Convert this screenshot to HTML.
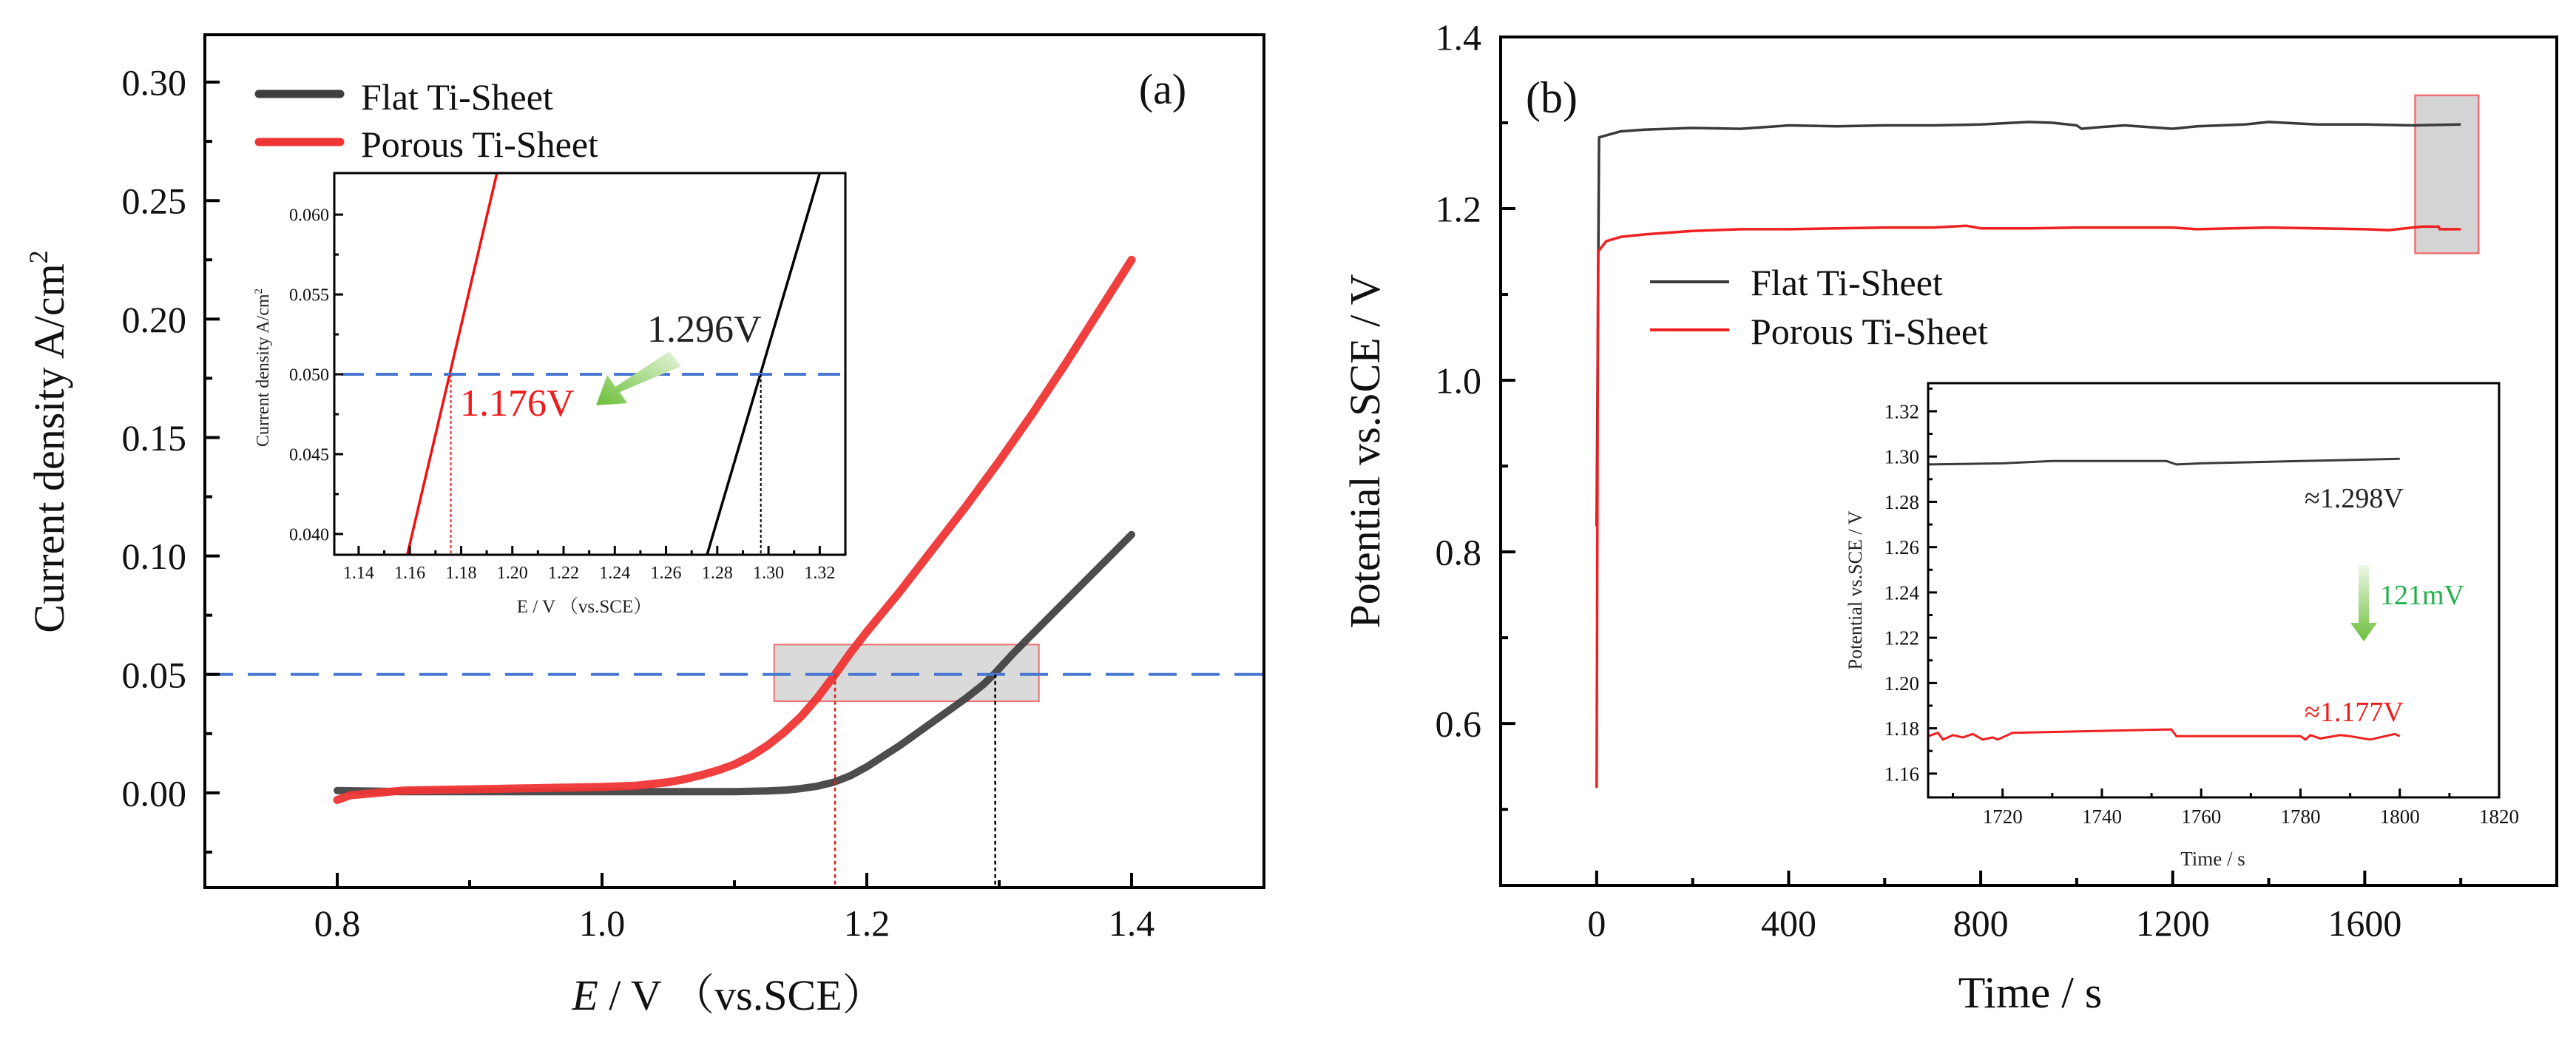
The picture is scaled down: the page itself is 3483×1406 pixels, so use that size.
<!DOCTYPE html>
<html><head><meta charset="utf-8"><title>LSV and chronopotentiometry</title>
<style>
html,body{margin:0;padding:0;background:#fff;}
svg{display:block;font-family:"Liberation Serif","Noto Serif CJK SC",serif;}
</style></head>
<body>
<svg id="fig" width="3483" height="1406" viewBox="0 0 3483 1406" xmlns="http://www.w3.org/2000/svg">
<rect width="3483" height="1406" fill="#fff"/>
<g id="pa"></g>
<g id="pb"></g>
</svg>
<script>
// ---------- Panel (a) data ----------
const aFlatE = [0.80,0.85,0.90,0.95,1.00,1.05,1.10,1.125,1.14,1.15,1.1625,1.175,1.1875,1.20,1.2125,1.225,1.2375,1.25,1.2625,1.275,1.2875,1.296,1.31,1.325,1.35,1.375,1.40];
const aFlatJ = [0.001,0.0005,0.0005,0.0005,0.0005,0.0005,0.0005,0.0008,0.0012,0.0018,0.0028,0.0045,0.0072,0.011,0.0155,0.020,0.025,0.030,0.035,0.040,0.0455,0.050,0.0585,0.067,0.081,0.095,0.109];
const aPorE = [0.80,0.81,0.85,0.90,0.95,1.00,1.025,1.05,1.0625,1.075,1.0875,1.10,1.1125,1.125,1.1375,1.15,1.1625,1.176,1.1875,1.20,1.225,1.25,1.275,1.30,1.325,1.35,1.375,1.40];
const aPorJ = [-0.003,-0.001,0.001,0.0015,0.002,0.0025,0.003,0.0045,0.0058,0.0075,0.0095,0.012,0.0155,0.020,0.0255,0.032,0.040,0.050,0.059,0.068,0.085,0.103,0.121,0.140,0.160,0.181,0.203,0.225];
const aXTicks = [0.8,1.0,1.2,1.4];
const aYTicks = [0.00,0.05,0.10,0.15,0.20,0.25,0.30];
const aRef = 0.05, aPorCross = 1.176, aFlatCross = 1.297;
// inset (a)
const iaPorE = [1.159,1.194];
const iaPorJ = [0.0387,0.0626];
const iaFlatE = [1.276,1.320];
const iaFlatJ = [0.0387,0.0626];
const iaXTicks = [1.14,1.16,1.18,1.20,1.22,1.24,1.26,1.28,1.30,1.32];
const iaYTicks = [0.040,0.045,0.050,0.055,0.060];
// ---------- Panel (b) data ----------
const bFlatT = [0,5,50,100,200,300,400,500,600,700,800,900,950,1000,1010,1050,1100,1200,1250,1350,1400,1500,1600,1700,1800];
const bFlatV = [0.83,1.283,1.290,1.292,1.294,1.293,1.297,1.296,1.297,1.297,1.298,1.301,1.300,1.297,1.293,1.295,1.297,1.293,1.296,1.298,1.301,1.298,1.298,1.297,1.298];
const bPorT = [0,3,20,50,100,200,300,400,500,600,700,770,800,900,1000,1200,1250,1400,1500,1600,1650,1700,1720,1754,1756,1800];
const bPorV = [0.525,1.150,1.162,1.167,1.170,1.174,1.176,1.176,1.177,1.178,1.178,1.180,1.177,1.177,1.178,1.178,1.176,1.178,1.177,1.176,1.175,1.178,1.179,1.179,1.176,1.176];
const bXTicks = [0,400,800,1200,1600];
const bYTicks = [0.6,0.8,1.0,1.2,1.4];
// inset (b)
const ibFlatT = [1705,1720,1730,1753,1755,1760,1780,1800];
const ibFlatV = [1.2965,1.297,1.298,1.298,1.2965,1.297,1.298,1.299];
const ibPorT = [1705,1707,1708,1710,1712,1714,1716,1718,1719,1720,1722,1754,1755,1780,1781,1782,1784,1788,1790,1794,1797,1799,1800];
const ibPorV = [1.1765,1.178,1.175,1.177,1.176,1.1775,1.175,1.176,1.175,1.176,1.178,1.1795,1.1765,1.1765,1.175,1.177,1.1755,1.177,1.1765,1.175,1.1765,1.1775,1.1765];
const ibXTicks = [1720,1740,1760,1780,1800,1820];
const ibYTicks = [1.16,1.18,1.20,1.22,1.24,1.26,1.28,1.30,1.32];

const NS="http://www.w3.org/2000/svg";
function mk(parent,tag,attrs,text){const e=document.createElementNS(NS,tag);for(const k in attrs)e.setAttribute(k,attrs[k]);if(text!==undefined)e.textContent=text;parent.appendChild(e);return e;}
function scale(d0,d1,p0,p1){return v=>p0+(v-d0)/(d1-d0)*(p1-p0);}
function pathFrom(xs,ys,sx,sy){return xs.map((x,i)=>(i?'L':'M')+sx(x).toFixed(1)+' '+sy(ys[i]).toFixed(1)).join(' ');}

function axes(g,o){
  const {L,R,T,B,sx,sy,xt,yt,xminor,yminor,lw,maj,min,fs,xfmt,yfmt,xlabY,ylabX}=o;
  const fr=mk(g,'rect',{x:L,y:T,width:R-L,height:B-T,fill:'none',stroke:'#000','stroke-width':lw});
  
  
  xminor.forEach(v=>{const t=mk(g,'line',{x1:sx(v),x2:sx(v),y1:B,y2:B-min,stroke:'#000','stroke-width':lw});
    
    });
  yminor.forEach(v=>{const t=mk(g,'line',{x1:L,x2:L+min,y1:sy(v),y2:sy(v),stroke:'#000','stroke-width':lw});
    
    });
  xt.forEach(v=>{const t=mk(g,'line',{x1:sx(v),x2:sx(v),y1:B,y2:B-maj,stroke:'#000','stroke-width':lw});
    
    
    const l=mk(g,'text',{x:sx(v),y:xlabY,'font-size':fs,'text-anchor':'middle',fill:'#111'},xfmt(v));
    
    });
  yt.forEach(v=>{const t=mk(g,'line',{x1:L,x2:L+maj,y1:sy(v),y2:sy(v),stroke:'#000','stroke-width':lw});
    
    
    const l=mk(g,'text',{x:ylabX,y:sy(v)+fs*0.35,'font-size':fs,'text-anchor':'end',fill:'#111'},yfmt(v));
    
    });
}
function range(a,b,s){const r=[];for(let v=a;v<=b+1e-9;v+=s)r.push(+v.toFixed(6));return r;}

// ================= Panel A =================
const ga=document.getElementById('pa');
{
 const L=277,R=1709,T=47,B=1200;
 const sx=scale(0.7,1.5,L,R), sy=scale(-0.04,0.32,B,T);
 const box=mk(ga,'rect',{x:sx(1.13),y:sy(0.0626),width:sx(1.33)-sx(1.13),height:sy(0.0387)-sy(0.0626),fill:'#d4d4d4','fill-opacity':0.85,stroke:'#f07070','stroke-width':2});
 
 
 const fl=mk(ga,'path',{d:pathFrom(aFlatE,aFlatJ,sx,sy),fill:'none',stroke:'#3e3e3e','stroke-width':10,'stroke-linejoin':'round','stroke-linecap':'round','stroke-opacity':0.92});
 
 
 const pr=mk(ga,'path',{d:pathFrom(aPorE,aPorJ,sx,sy),fill:'none',stroke:'#ef3535','stroke-width':11,'stroke-linejoin':'round','stroke-linecap':'round','stroke-opacity':0.95});
 
 
 const ref=mk(ga,'line',{x1:L,x2:R,y1:sy(aRef),y2:sy(aRef),stroke:'#4a78d0','stroke-width':4,'stroke-dasharray':'38 20'});
 
 
 const v1=mk(ga,'line',{x1:sx(aPorCross),x2:sx(aPorCross),y1:sy(aRef),y2:B,stroke:'#e02020','stroke-width':2.5,'stroke-dasharray':'5 4'});
 
 
 const v2=mk(ga,'line',{x1:sx(aFlatCross),x2:sx(aFlatCross),y1:sy(aRef),y2:B,stroke:'#000','stroke-width':2.5,'stroke-dasharray':'5 4'});
 
 
 axes(ga,{name:'a',L,R,T,B,sx,sy,xt:aXTicks,yt:aYTicks,xminor:range(0.9,1.3,0.2),yminor:range(-0.025,0.275,0.05),lw:4,maj:20,min:10,fs:50,
   xfmt:v=>v.toFixed(1),yfmt:v=>v.toFixed(2),xlabY:1265,ylabX:252});
 const yt=mk(ga,'text',{x:0,y:0,'font-size':58,'text-anchor':'middle',transform:'translate(86,597) rotate(-90)',fill:'#111'});
 
 
 yt.innerHTML='Current density A/cm<tspan dy="-22" font-size="36">2</tspan>';
 const xt=mk(ga,'text',{x:985,y:1365,'font-size':58,'text-anchor':'middle',fill:'#111'});
 
 
 xt.innerHTML='<tspan font-style="italic">E</tspan> / V （vs.SCE）';
 const lab=mk(ga,'text',{x:1572,y:140,'font-size':58,'text-anchor':'middle',fill:'#111'},'(a)');
 
 
 const l1=mk(ga,'line',{x1:350,x2:460,y1:127,y2:127,stroke:'#3e3e3e','stroke-width':11,'stroke-linecap':'round'});
 
 
 const t1=mk(ga,'text',{x:488,y:148,'font-size':50,fill:'#111'},'Flat Ti-Sheet');
 
 
 const l2=mk(ga,'line',{x1:350,x2:460,y1:192,y2:192,stroke:'#ef3535','stroke-width':11,'stroke-linecap':'round'});
 
 
 const t2=mk(ga,'text',{x:488,y:212,'font-size':50,fill:'#111'},'Porous Ti-Sheet');
 
 

 const gi=mk(ga,'g',{});
 
 
 const iL=452,iR=1143,iT=234,iB=750;
 const isx=scale(1.1305,1.330,iL,iR), isy=scale(0.0387,0.0626,iB,iT);
 mk(gi,'rect',{x:iL,y:iT,width:iR-iL,height:iB-iT,fill:'#fff'});
 const ir=mk(gi,'path',{d:pathFrom(iaPorE,iaPorJ,isx,isy),fill:'none',stroke:'#f01010','stroke-width':3.5});
 
 
 const ib=mk(gi,'path',{d:pathFrom(iaFlatE,iaFlatJ,isx,isy),fill:'none',stroke:'#000','stroke-width':3.5});
 
 
 const iref=mk(gi,'line',{x1:iL+10,x2:iR,y1:isy(aRef),y2:isy(aRef),stroke:'#4a78d0','stroke-width':4,'stroke-dasharray':'30 16'});
 
 
 const iv1=mk(gi,'line',{x1:isx(aPorCross),x2:isx(aPorCross),y1:isy(aRef),y2:iB,stroke:'#e02020','stroke-width':2,'stroke-dasharray':'4 3'});
 
 
 const iv2=mk(gi,'line',{x1:isx(aFlatCross),x2:isx(aFlatCross),y1:isy(aRef),y2:iB,stroke:'#000','stroke-width':2,'stroke-dasharray':'4 3'});
 
 
 axes(gi,{name:'inset-a',L:iL,R:iR,T:iT,B:iB,sx:isx,sy:isy,xt:iaXTicks,yt:iaYTicks,xminor:range(1.15,1.31,0.02),yminor:range(0.0425,0.0575,0.005),lw:3,maj:12,min:6,fs:24,
   xfmt:v=>v.toFixed(2),yfmt:v=>v.toFixed(3),xlabY:782,ylabX:445});
 const iyt=mk(gi,'text',{x:0,y:0,'font-size':24,'text-anchor':'middle',transform:'translate(363,497) rotate(-90)',fill:'#222'});
 
 
 iyt.innerHTML='Current density A/cm<tspan dy="-9" font-size="15">2</tspan>';
 const ixt=mk(gi,'text',{x:790,y:828,'font-size':25,'text-anchor':'middle',fill:'#222'},'E / V （vs.SCE）');
 
 
 const an1=mk(gi,'text',{x:875,y:462,'font-size':52,fill:'#222'},'1.296V');
 
 
 const an2=mk(gi,'text',{x:622,y:562,'font-size':52,fill:'#ee1c1c'},'1.176V');
 
 
 const defs=mk(document.getElementById('fig'),'defs',{});
 defs.innerHTML='<linearGradient id="ga1" x1="1" y1="0" x2="0" y2="1"><stop offset="0" stop-color="#e6f4dc"/><stop offset="1" stop-color="#6cbf3a"/></linearGradient><linearGradient id="gb1" x1="0" y1="0" x2="0" y2="1"><stop offset="0" stop-color="#eef7e6"/><stop offset="1" stop-color="#6cbf3a"/></linearGradient>';
 const ar=mk(gi,'polygon',{points:'921,495 905,475 832,523 821,507 806,548 848,545 838,530',fill:'url(#ga1)'});
 
 
}

// ================= Panel B =================
const gb=document.getElementById('pb');
{
 const L=2029,R=3457,T=50,B=1197;
 const sx=scale(-200,2000,L,R), sy=scale(0.4114,1.4,B,T);
 const box=mk(gb,'rect',{x:sx(1705),y:sy(1.332),width:sx(1837)-sx(1705),height:sy(1.148)-sy(1.332),fill:'#d4d4d4',stroke:'#f07070','stroke-width':2.5});
 
 
 const fl=mk(gb,'path',{d:pathFrom(bFlatT,bFlatV,sx,sy),fill:'none',stroke:'#3a3a3a','stroke-width':3.5,'stroke-linejoin':'round'});
 
 
 const pr=mk(gb,'path',{d:pathFrom(bPorT,bPorV,sx,sy),fill:'none',stroke:'#f02020','stroke-width':3.5,'stroke-linejoin':'round'});
 
 
 axes(gb,{name:'b',L,R,T,B,sx,sy,xt:bXTicks,yt:bYTicks,xminor:[200,600,1000,1400,1800],yminor:range(0.5,1.3,0.2),lw:4,maj:20,min:10,fs:50,
   xfmt:v=>String(v),yfmt:v=>v.toFixed(1),xlabY:1265,ylabX:2003});
 const yt=mk(gb,'text',{x:0,y:0,'font-size':58,'text-anchor':'middle',transform:'translate(1865,610) rotate(-90)',fill:'#111'},'Potential vs.SCE / V');
 
 
 const xt=mk(gb,'text',{x:2745,y:1362,'font-size':60,'text-anchor':'middle',fill:'#111'},'Time / s');
 
 
 const lab=mk(gb,'text',{x:2063,y:152,'font-size':60,fill:'#111'},'(b)');
 
 
 const l1=mk(gb,'line',{x1:2231,x2:2338,y1:381,y2:381,stroke:'#3a3a3a','stroke-width':4});
 
 
 const t1=mk(gb,'text',{x:2367,y:399,'font-size':50,fill:'#111'},'Flat Ti-Sheet');
 
 
 const l2=mk(gb,'line',{x1:2231,x2:2338,y1:446,y2:446,stroke:'#f02020','stroke-width':4});
 
 
 const t2=mk(gb,'text',{x:2367,y:465,'font-size':50,fill:'#111'},'Porous Ti-Sheet');
 
 

 const gi=mk(gb,'g',{});
 
 
 const iL=2607,iR=3379,iT=518,iB=1078;
 const isx=scale(1705,1820,iL,iR), isy=scale(1.1495,1.3324,iB,iT);
 mk(gi,'rect',{x:iL,y:iT,width:iR-iL,height:iB-iT,fill:'#fff'});
 const ifl=mk(gi,'path',{d:pathFrom(ibFlatT,ibFlatV,isx,isy),fill:'none',stroke:'#3a3a3a','stroke-width':3});
 
 
 const ipr=mk(gi,'path',{d:pathFrom(ibPorT,ibPorV,isx,isy),fill:'none',stroke:'#f02020','stroke-width':3});
 
 
 axes(gi,{name:'inset-b',L:iL,R:iR,T:iT,B:iB,sx:isx,sy:isy,xt:ibXTicks,yt:ibYTicks,xminor:range(1710,1810,20),yminor:range(1.17,1.33,0.02),lw:3,maj:12,min:6,fs:27,
   xfmt:v=>String(v),yfmt:v=>v.toFixed(2),xlabY:1113,ylabX:2595});
 const iyt=mk(gi,'text',{x:0,y:0,'font-size':26,'text-anchor':'middle',transform:'translate(2517,798) rotate(-90)',fill:'#222'},'Potential vs.SCE / V');
 
 
 const ixt=mk(gi,'text',{x:2992,y:1170,'font-size':27,'text-anchor':'middle',fill:'#222'},'Time / s');
 
 
 const a1=mk(gi,'text',{x:3116,y:686,'font-size':38,fill:'#222'},'≈1.298V');
 
 
 const a2=mk(gi,'text',{x:3116,y:975,'font-size':38,fill:'#ee1c1c'},'≈1.177V');
 
 
 const a3=mk(gi,'text',{x:3218,y:817,'font-size':38,fill:'#22b04a'},'121mV');
 
 
 const ar=mk(gi,'polygon',{points:'3189,764 3203,764 3203,842 3214,842 3196,867 3178,842 3189,842',fill:'url(#gb1)'});
 
 
}
</script>
</body></html>
